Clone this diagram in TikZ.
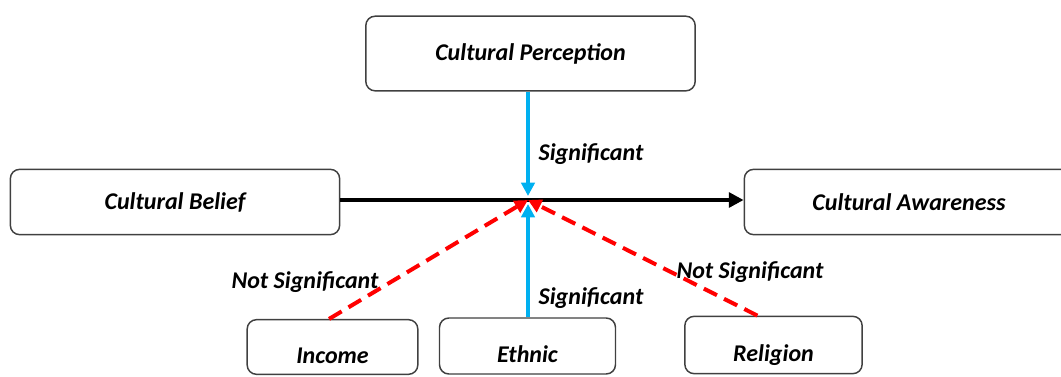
\documentclass[tikz,border=0pt]{standalone}
\usepackage{fontspec}
\setmainfont{Carlito}
\usetikzlibrary{calc,arrows.meta}

\definecolor{sigblue}{RGB}{0,176,240}
\definecolor{boxgray}{RGB}{64,64,64}

\tikzset{
    box/.style={draw=boxgray, line width=1.1pt, rounded corners=7pt, fill=white,
        font=\fontsize{18}{21}\selectfont\bfseries\itshape},
    lowbox/.style={box, text height=24pt, text depth=0pt},
    lbl/.style={font=\fontsize{18}{21}\selectfont\bfseries\itshape},
    sig/.style={draw=sigblue, line width=2.8pt, -{Triangle[length=10pt,width=10pt]}},
    notsig/.style={draw=red, line width=3pt, dash pattern=on 11pt off 6pt,
        -{Triangle[length=10pt,width=10pt]}},
}

\begin{document}
\begin{tikzpicture}[x=0.75pt,y=-0.75pt]
\useasboundingbox (0,0) rectangle (1061,376);

% the five concepts
\node[box, minimum width=247pt, minimum height=56pt] (perc) at (530.5,53.5) {Cultural Perception};
\node[box, minimum width=247pt, minimum height=49pt] (belief) at (175,202) {Cultural Belief};
\node[box, minimum width=247pt, minimum height=49pt] (aware) at (909,202) {Cultural Awareness};
\node[lowbox, minimum width=128pt, minimum height=41pt] (income) at (332.5,347) {Income};
\node[lowbox, minimum width=132pt, minimum height=42pt] (ethnic) at (527.5,346) {Ethnic};
\node[lowbox, minimum width=133pt, minimum height=43pt] (religion) at (773.5,345) {Religion};

% where the moderators meet the main path
\coordinate (hub) at (528,200);
\coordinate (hubtop) at (528,196);
\coordinate (hubbot) at (528,204);

\draw[line width=2.8pt, -{Triangle[length=11pt,width=11pt]}] (belief.east |- hub) -- (aware.west |- hub);

\draw[sig] (perc.south -| hub) -- (hubtop);
\draw[sig] (ethnic.north -| hub) -- (hubbot);
\draw[notsig] ($(income.north west)!0.48!(income.north east)$) -- (hub);
\draw[notsig] ($(religion.north west)!0.41!(religion.north east)$) -- (hub);

% path labels
\node[lbl] (s1) at (591,154) {Significant};
\node[lbl] (s2) at (591,298) {Significant};
\node[lbl] (n1) at (305,282) {Not Significant};
\node[lbl] (n2) at (750,272) {Not Significant};
\end{tikzpicture}
\end{document}
